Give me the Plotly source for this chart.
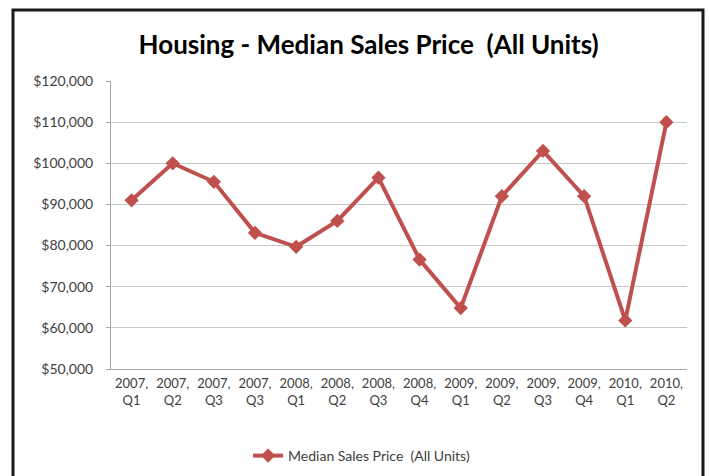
import plotly.graph_objects as go

quarters = ["2007,<br>Q1", "2007,<br>Q2", "2007,<br>Q3", "2007,<br>Q3", "2008,<br>Q1", "2008,<br>Q2",
            "2008,<br>Q3", "2008,<br>Q4", "2009,<br>Q1", "2009,<br>Q2", "2009,<br>Q3", "2009,<br>Q4",
            "2010,<br>Q1", "2010,<br>Q2"]
cat_ids = list(range(len(quarters)))
median_price = [91000, 100000, 95500, 83100, 79700, 86000, 96500, 76600, 64800, 92000, 103000, 92000, 61800, 110000]
series_name = "Median Sales Price  (All Units)"
title_text = "Housing - Median Sales Price  (All Units)"

W, H = 709, 476
L, R, T, B = 111, 22, 81, 107
pw, ph = W - L - R, H - T - B

def px_x(x):
    return (x - L) / pw

def px_y(y):
    return (H - B - y) / ph

fig = go.Figure()
fig.add_trace(go.Scatter(
    x=cat_ids, y=median_price, mode="lines+markers", name=series_name,
    line=dict(color="#C0504D", width=4),
    marker=dict(symbol="diamond", size=11, color="#C0504D"),
))

fig.update_layout(
    width=W, height=H,
    margin=dict(l=L, r=R, t=T, b=B, autoexpand=False),
    paper_bgcolor="white", plot_bgcolor="white",
    font=dict(family="Lato, 'Open Sans', sans-serif", color="#404040"),
    title=dict(text="<b>" + title_text + "</b>", x=0.52, xanchor="center", y=1 - 45 / H, yanchor="middle",
               xref="container", yref="container",
               font=dict(size=26, color="#000000", family="Lato, sans-serif")),
    showlegend=True,
    legend=dict(orientation="h", xref="container", yref="container", x=0.51, xanchor="center",
                y=1 - 456 / H, yanchor="middle", font=dict(size=14, color="#404040"),
                itemwidth=30),
    xaxis=dict(
        tickmode="array", tickvals=cat_ids, ticktext=quarters,
        range=[-0.5, len(quarters) - 0.5],
        showgrid=False, showline=True, linecolor="#A6A6A6", linewidth=1,
        ticks="", tickfont=dict(size=13, color="#404040"), zeroline=False,
        ticklabelstandoff=2,
    ),
    yaxis=dict(
        range=[50000, 120000], dtick=10000, tick0=50000, tickformat="$,.0f",
        showgrid=True, gridcolor="#C8C8C8", gridwidth=1,
        showline=True, linecolor="#A6A6A6", linewidth=1,
        ticks="outside", ticklen=4, tickcolor="#A6A6A6",
        tickfont=dict(size=14, color="#404040"), zeroline=False,
        ticklabelstandoff=10,
    ),
    shapes=[dict(type="rect", xref="paper", yref="paper",
                 x0=px_x(13), x1=px_x(703), y0=px_y(490), y1=px_y(10),
                 line=dict(color="#1a1a1a", width=3), fillcolor="rgba(0,0,0,0)", layer="above")],
)

fig.write_html("out.html", config={"displayModeBar": False},
               post_script="document.body.style.margin='0';")
